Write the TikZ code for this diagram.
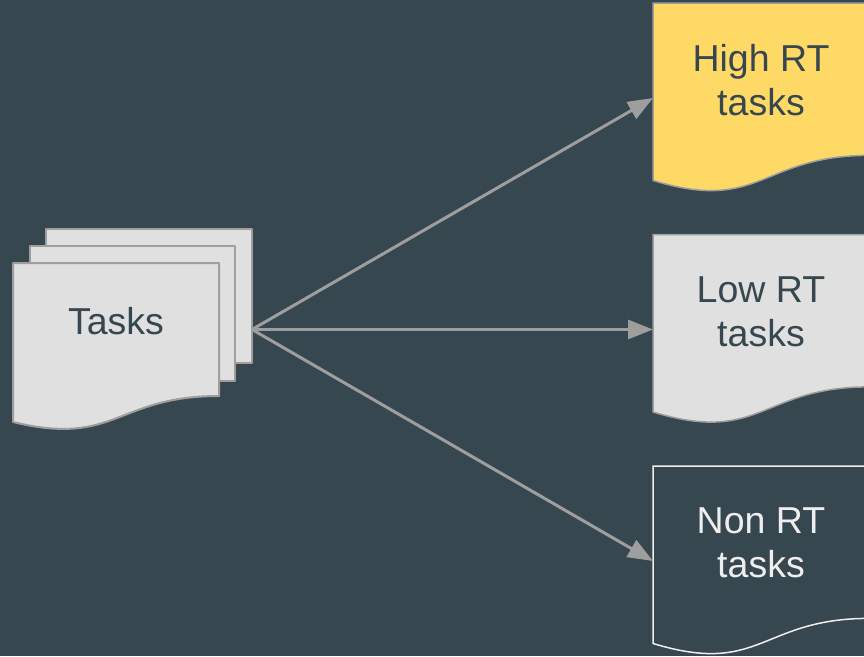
\documentclass[tikz,border=0pt]{standalone}
\usepackage{fontspec}
\setmainfont{Liberation Sans}
\usetikzlibrary{calc,arrows.meta}
\definecolor{slate}{HTML}{37474F}
\definecolor{sheet}{HTML}{E0E0E0}
\definecolor{edge}{HTML}{9E9E9E}
\definecolor{gold}{HTML}{FFD966}
\definecolor{chalk}{HTML}{EEEEEE}

% outline of a flowchart "document" symbol laid over an empty frame node
\newcommand\docoutline[2]{%
  \path[#1] (#2.north west) -- (#2.north east)
    -- ($(#2.north east)!0.802!(#2.south east)$)
    .. controls ($(#2.north)!0.802!(#2.south)$) and ($(#2.north)!1.1075!(#2.south)$)
    .. ($(#2.north west)!0.934!(#2.south west)$) -- cycle;}

\begin{document}
\begin{tikzpicture}[x=1pt,y=-1pt,
  frame/.style={inner sep=0pt,outer sep=0pt,minimum width=216pt,minimum height=190pt},
  caption/.style={font=\fontsize{37.5}{44}\selectfont, align=center, inner sep=0pt},
  flow/.style={draw=edge,line width=3pt,-{Triangle[length=25pt,width=19pt]}},
  paper/.style={fill=sheet,draw=edge,line width=2pt,line join=round},
]
\fill[slate] (0,0) rectangle (864,656);
\useasboundingbox (0,0) rectangle (864,656);

% frames
\node[inner sep=0pt,outer sep=0pt,minimum width=239pt,minimum height=201pt] (tasks) at (132.5,329.5) {};
\node[frame] (high) at (761,98) {};
\node[frame] (low)  at (761,329.5) {};
\node[frame] (non)  at (761,561) {};

% stacked task sheets
\path[paper] (46,229) rectangle (252,363);
\path[paper] (30,246) rectangle (235,381);
\path[paper] (13,263) -- (219,263) -- (219,396)
  .. controls (116,396) and (116,447) .. (13,422) -- cycle;

% category documents
\docoutline{fill=gold,draw=edge,line width=1.5pt}{high}
\docoutline{fill=sheet,draw=edge,line width=1.5pt}{low}
\docoutline{draw=chalk,line width=1.5pt}{non}

% labels
\node[caption,text=slate] (tasksT) at (116,321) {Tasks};
\node[caption,text=slate] (highT) at (761,80) {High RT\\tasks};
\node[caption,text=slate] (lowT)  at (761,312) {Low RT\\tasks};
\node[caption,text=chalk] (nonT)  at (761,543) {Non RT\\tasks};

% connectors
\draw[flow] (tasks.east) -- (high.west);
\draw[flow] (tasks.east) -- (low.west);
\draw[flow] (tasks.east) -- (non.west);
\end{tikzpicture}
\end{document}
